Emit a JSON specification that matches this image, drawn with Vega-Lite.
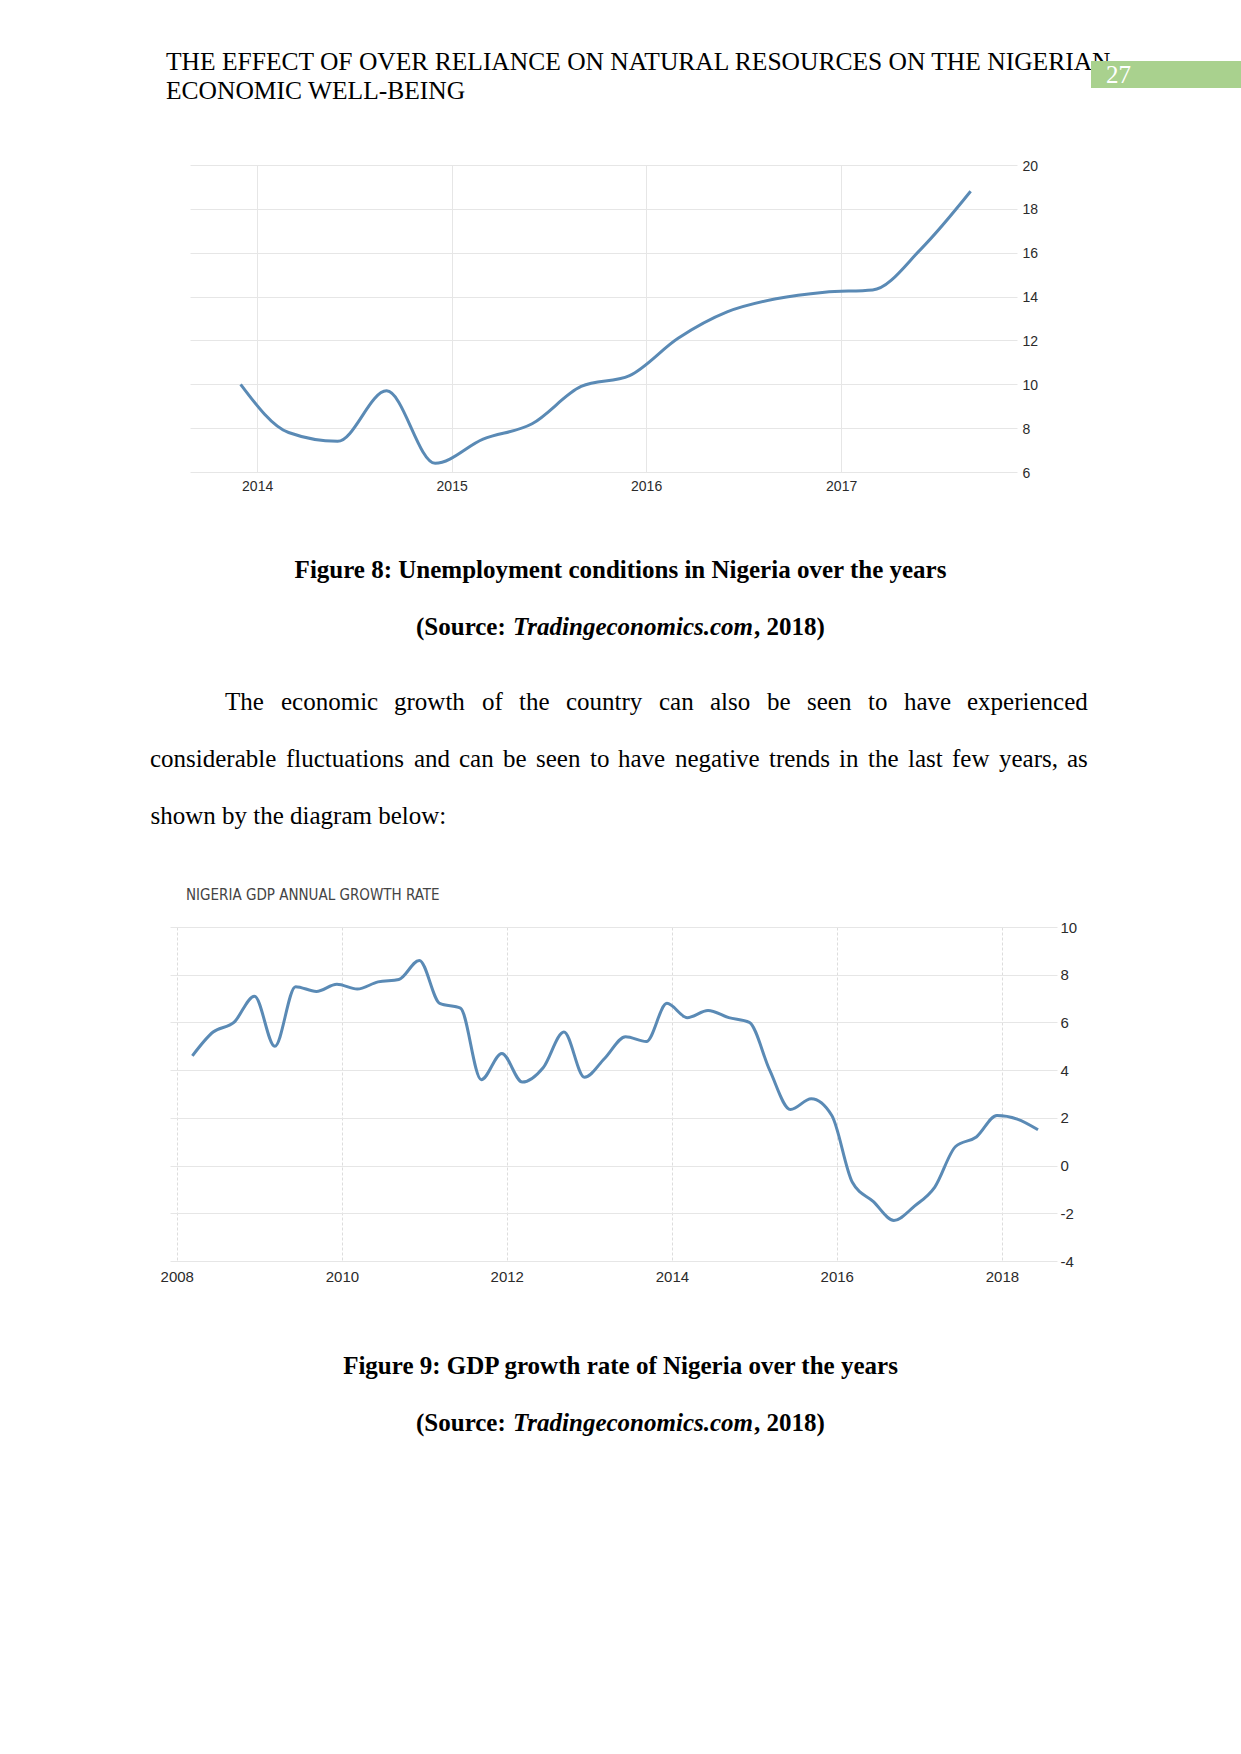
{
  "$schema": "https://vega.github.io/schema/vega-lite/v6.json",
  "background": "white",
  "padding": 0,
  "spacing": 0,
  "bounds": "flush",
  "config": {
    "view": {"stroke": null},
    "concat": {"spacing": 0},
    "title": {"font": "Liberation Serif", "fontSize": 25, "fontWeight": "normal", "color": "#000000", "orient": "bottom", "anchor": "start", "frame": "group", "offset": 0},
    "axis": {"domain": false, "ticks": false, "tickSize": 0, "title": null, "labelFont": "Liberation Sans", "labelColor": "#2b2b2b", "gridColor": "#e6e6e6", "gridWidth": 1}
  },
  "datasets": {
    "unemployment": [
      {"date": "2013-12-01", "rate": 10.0},
      {"date": "2014-03-01", "rate": 7.8},
      {"date": "2014-06-01", "rate": 7.4},
      {"date": "2014-09-01", "rate": 9.7},
      {"date": "2014-12-01", "rate": 6.4},
      {"date": "2015-03-01", "rate": 7.5},
      {"date": "2015-06-01", "rate": 8.2},
      {"date": "2015-09-01", "rate": 9.9},
      {"date": "2015-12-01", "rate": 10.4},
      {"date": "2016-03-01", "rate": 12.1},
      {"date": "2016-06-01", "rate": 13.3},
      {"date": "2016-09-01", "rate": 13.9},
      {"date": "2016-12-01", "rate": 14.2},
      {"date": "2017-03-01", "rate": 14.3},
      {"date": "2017-06-01", "rate": 16.2},
      {"date": "2017-09-01", "rate": 18.8}
    ],
    "gdp": [
      {"date": "2008-03-10", "growth": 4.6},
      {"date": "2008-06-10", "growth": 5.6},
      {"date": "2008-09-10", "growth": 6.0},
      {"date": "2008-12-10", "growth": 7.1},
      {"date": "2009-03-10", "growth": 5.0},
      {"date": "2009-06-10", "growth": 7.5},
      {"date": "2009-09-10", "growth": 7.3},
      {"date": "2009-12-10", "growth": 7.6},
      {"date": "2010-03-10", "growth": 7.4},
      {"date": "2010-06-10", "growth": 7.7},
      {"date": "2010-09-10", "growth": 7.8},
      {"date": "2010-12-10", "growth": 8.6},
      {"date": "2011-03-10", "growth": 6.8},
      {"date": "2011-06-10", "growth": 6.6},
      {"date": "2011-09-10", "growth": 3.6},
      {"date": "2011-12-10", "growth": 4.7},
      {"date": "2012-03-10", "growth": 3.5},
      {"date": "2012-06-10", "growth": 4.1},
      {"date": "2012-09-10", "growth": 5.6},
      {"date": "2012-12-10", "growth": 3.7},
      {"date": "2013-03-10", "growth": 4.5},
      {"date": "2013-06-10", "growth": 5.4},
      {"date": "2013-09-10", "growth": 5.2},
      {"date": "2013-12-10", "growth": 6.8},
      {"date": "2014-03-10", "growth": 6.2},
      {"date": "2014-06-10", "growth": 6.5},
      {"date": "2014-09-10", "growth": 6.2},
      {"date": "2014-12-10", "growth": 6.0},
      {"date": "2015-03-10", "growth": 4.0},
      {"date": "2015-06-10", "growth": 2.35},
      {"date": "2015-09-10", "growth": 2.8},
      {"date": "2015-12-10", "growth": 2.1},
      {"date": "2016-03-10", "growth": -0.7},
      {"date": "2016-06-10", "growth": -1.5},
      {"date": "2016-09-10", "growth": -2.3},
      {"date": "2016-12-10", "growth": -1.7},
      {"date": "2017-03-10", "growth": -0.9},
      {"date": "2017-06-10", "growth": 0.8},
      {"date": "2017-09-10", "growth": 1.2},
      {"date": "2017-12-10", "growth": 2.1},
      {"date": "2018-03-10", "growth": 1.95},
      {"date": "2018-06-10", "growth": 1.5}
    ],
    "page": [{"page": "27"}]
  },
  "vconcat": [
    {"width": 1241, "height": 46, "data": {"values": []}, "mark": "point",
     "title": {"text": ["THE EFFECT OF OVER RELIANCE ON NATURAL RESOURCES ON THE NIGERIAN", "ECONOMIC WELL-BEING"], "dx": 166, "fontSize": 25.5, "lineHeight": 29}},
    {"width": 1241, "height": 15, "data": {"values": []}, "mark": "point"},
    {"hconcat": [
      {"width": 1091, "height": 27, "data": {"values": []}, "mark": "point"},
      {"width": 150, "height": 27, "data": {"name": "page"},
       "layer": [
         {"mark": {"type": "rect", "color": "#a9d18e"}, "encoding": {}},
         {"mark": {"type": "text", "font": "Liberation Serif", "fontSize": 25, "color": "#ffffff", "align": "left", "baseline": "alphabetic", "dx": -60, "dy": 8}, "encoding": {"text": {"field": "page"}}}
       ]}
    ], "spacing": 0, "bounds": "flush"},
    {"width": 1241, "height": 104, "data": {"values": []}, "mark": "point"},
    {"hconcat": [
      {"width": 190, "height": 1, "data": {"values": []}, "mark": "point"},
      {"width": 827, "height": 307, "data": {"name": "unemployment"},
       "mark": {"type": "line", "interpolate": "monotone", "color": "#5a8ab5", "strokeWidth": 3},
       "encoding": {
         "x": {"field": "date", "type": "temporal",
               "scale": {"domain": [{"year": 2013, "month": 8, "date": 28}, {"year": 2017, "month": 11, "date": 27}]},
               "axis": {"values": [{"year": 2014, "month": 1, "date": 1}, {"year": 2015, "month": 1, "date": 1}, {"year": 2016, "month": 1, "date": 1}, {"year": 2017, "month": 1, "date": 1}],
                        "format": "%Y", "grid": true, "labelFontSize": 14, "labelPadding": 7.5}},
         "y": {"field": "rate", "type": "quantitative",
               "scale": {"domain": [6, 20], "nice": false, "zero": false},
               "axis": {"orient": "right", "values": [6, 8, 10, 12, 14, 16, 18, 20], "labelExpr": "'' + datum.value", "grid": true, "labelFontSize": 14, "labelPadding": 5, "labelOffset": 1}}
       }}
    ], "spacing": 0, "bounds": "flush"},
    {"width": 1241, "height": 389, "data": {"values": []}, "mark": "point",
     "title": {"text": "Figure 8: Unemployment conditions in Nigeria over the years", "anchor": "middle", "fontWeight": "bold"}},
    {"hconcat": [
      {"width": 416, "height": 57, "data": {"values": []}, "mark": "point"},
      {"width": 97, "height": 57, "data": {"values": []}, "mark": "point", "title": {"text": "(Source:", "fontWeight": "bold"}},
      {"width": 241, "height": 57, "data": {"values": []}, "mark": "point", "title": {"text": "Tradingeconomics.com", "fontWeight": "bold", "fontStyle": "italic"}},
      {"width": 100, "height": 57, "data": {"values": []}, "mark": "point", "title": {"text": ", 2018)", "fontWeight": "bold"}}
    ], "spacing": 0, "bounds": "flush"},
    {"width": 1241, "height": 57, "data": {"values": []}, "mark": "point"},
    {"hconcat": [
      {"width": 225, "height": 75, "data": {"values": []}, "mark": "point"},
      {"width": 56, "height": 75, "data": {"values": []}, "mark": "point", "title": {"text": "The"}},
      {"width": 113, "height": 75, "data": {"values": []}, "mark": "point", "title": {"text": "economic"}},
      {"width": 88, "height": 75, "data": {"values": []}, "mark": "point", "title": {"text": "growth"}},
      {"width": 37, "height": 75, "data": {"values": []}, "mark": "point", "title": {"text": "of"}},
      {"width": 47, "height": 75, "data": {"values": []}, "mark": "point", "title": {"text": "the"}},
      {"width": 93, "height": 75, "data": {"values": []}, "mark": "point", "title": {"text": "country"}},
      {"width": 51, "height": 75, "data": {"values": []}, "mark": "point", "title": {"text": "can"}},
      {"width": 57, "height": 75, "data": {"values": []}, "mark": "point", "title": {"text": "also"}},
      {"width": 40, "height": 75, "data": {"values": []}, "mark": "point", "title": {"text": "be"}},
      {"width": 61, "height": 75, "data": {"values": []}, "mark": "point", "title": {"text": "seen"}},
      {"width": 36, "height": 75, "data": {"values": []}, "mark": "point", "title": {"text": "to"}},
      {"width": 63, "height": 75, "data": {"values": []}, "mark": "point", "title": {"text": "have"}},
      {"width": 121, "height": 75, "data": {"values": []}, "mark": "point", "title": {"text": "experienced"}}
    ], "spacing": 0, "bounds": "flush"},
    {"width": 1241, "height": 75, "data": {"values": []}, "mark": "point"},
    {"hconcat": [
      {"width": 150, "height": 57, "data": {"values": []}, "mark": "point"},
      {"width": 136, "height": 57, "data": {"values": []}, "mark": "point", "title": {"text": "considerable"}},
      {"width": 128, "height": 57, "data": {"values": []}, "mark": "point", "title": {"text": "fluctuations"}},
      {"width": 45, "height": 57, "data": {"values": []}, "mark": "point", "title": {"text": "and"}},
      {"width": 44, "height": 57, "data": {"values": []}, "mark": "point", "title": {"text": "can"}},
      {"width": 33, "height": 57, "data": {"values": []}, "mark": "point", "title": {"text": "be"}},
      {"width": 54, "height": 57, "data": {"values": []}, "mark": "point", "title": {"text": "seen"}},
      {"width": 28, "height": 57, "data": {"values": []}, "mark": "point", "title": {"text": "to"}},
      {"width": 57, "height": 57, "data": {"values": []}, "mark": "point", "title": {"text": "have"}},
      {"width": 94, "height": 57, "data": {"values": []}, "mark": "point", "title": {"text": "negative"}},
      {"width": 70, "height": 57, "data": {"values": []}, "mark": "point", "title": {"text": "trends"}},
      {"width": 29, "height": 57, "data": {"values": []}, "mark": "point", "title": {"text": "in"}},
      {"width": 40, "height": 57, "data": {"values": []}, "mark": "point", "title": {"text": "the"}},
      {"width": 44, "height": 57, "data": {"values": []}, "mark": "point", "title": {"text": "last"}},
      {"width": 47, "height": 57, "data": {"values": []}, "mark": "point", "title": {"text": "few"}},
      {"width": 68, "height": 57, "data": {"values": []}, "mark": "point", "title": {"text": "years,"}},
      {"width": 22, "height": 57, "data": {"values": []}, "mark": "point", "title": {"text": "as"}}
    ], "spacing": 0, "bounds": "flush"},
    {"width": 1241, "height": 114, "data": {"values": []}, "mark": "point",
     "title": {"text": "shown by the diagram below:", "dx": 150.5}},
    {"width": 1241, "height": 84, "data": {"values": []}, "mark": "point",
     "title": {"text": "NIGERIA GDP ANNUAL GROWTH RATE", "font": "Liberation Sans Narrow, DejaVu Sans Condensed, sans-serif", "fontSize": 15, "color": "#444444", "dx": 186}},
    {"width": 1241, "height": 43, "data": {"values": []}, "mark": "point"},
    {"hconcat": [
      {"width": 170, "height": 1, "data": {"values": []}, "mark": "point"},
      {"width": 887, "height": 334, "data": {"name": "gdp"},
       "mark": {"type": "line", "interpolate": "monotone", "color": "#5a8ab5", "strokeWidth": 3},
       "encoding": {
         "x": {"field": "date", "type": "temporal",
               "scale": {"domain": [{"year": 2007, "month": 12, "date": 2}, {"year": 2018, "month": 9, "date": 2}]},
               "axis": {"values": [{"year": 2008, "month": 1, "date": 1}, {"year": 2010, "month": 1, "date": 1}, {"year": 2012, "month": 1, "date": 1}, {"year": 2014, "month": 1, "date": 1}, {"year": 2016, "month": 1, "date": 1}, {"year": 2018, "month": 1, "date": 1}],
                        "format": "%Y", "grid": true, "gridDash": [3, 2], "gridColor": "#dddddd", "labelFontSize": 15, "labelPadding": 8}},
         "y": {"field": "growth", "type": "quantitative",
               "scale": {"domain": [-4, 10], "nice": false, "zero": false},
               "axis": {"orient": "right", "values": [-4, -2, 0, 2, 4, 6, 8, 10], "labelExpr": "'' + datum.value", "grid": true, "labelFontSize": 15, "labelPadding": 3, "labelOffset": 0}}
       }}
    ], "spacing": 0, "bounds": "flush"},
    {"width": 1241, "height": 423, "data": {"values": []}, "mark": "point",
     "title": {"text": "Figure 9: GDP growth rate of Nigeria over the years", "anchor": "middle", "fontWeight": "bold"}},
    {"hconcat": [
      {"width": 416, "height": 57, "data": {"values": []}, "mark": "point"},
      {"width": 97, "height": 57, "data": {"values": []}, "mark": "point", "title": {"text": "(Source:", "fontWeight": "bold"}},
      {"width": 241, "height": 57, "data": {"values": []}, "mark": "point", "title": {"text": "Tradingeconomics.com", "fontWeight": "bold", "fontStyle": "italic"}},
      {"width": 100, "height": 57, "data": {"values": []}, "mark": "point", "title": {"text": ", 2018)", "fontWeight": "bold"}}
    ], "spacing": 0, "bounds": "flush"},
    {"width": 1241, "height": 404, "data": {"values": []}, "mark": "point"}
  ]
}
